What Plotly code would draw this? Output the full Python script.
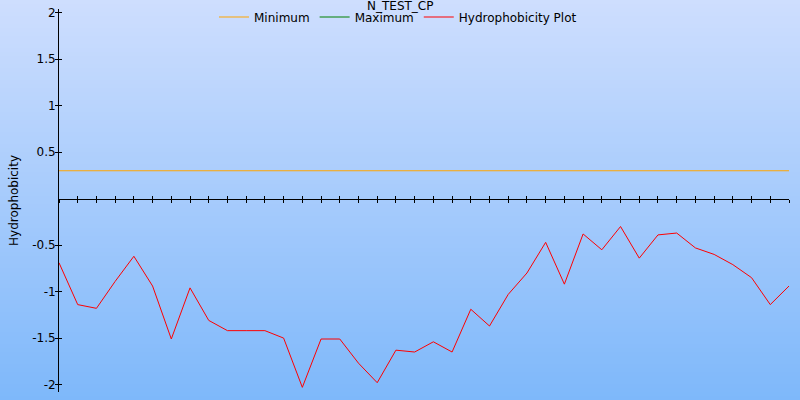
import plotly.graph_objects as go

# ---- data ----
positions = list(range(1, 41))
hydrophobicity = [
    -0.69, -1.14, -1.18, -0.89, -0.62, -0.94, -1.51, -0.96, -1.31, -1.42,
    -1.42, -1.42, -1.50, -2.03, -1.51, -1.51, -1.77, -1.98, -1.63, -1.65,
    -1.54, -1.65, -1.19, -1.37, -1.03, -0.80, -0.47, -0.92, -0.38, -0.55,
    -0.30, -0.64, -0.39, -0.37, -0.53, -0.60, -0.71, -0.85, -1.14, -0.94,
]
minimum_value = 0.3
y_tick_vals = [2, 1.5, 1, 0.5, -0.5, -1, -1.5, -2]
y_tick_text = ["2", "1.5", "1", "0.5", "-0.5", "-1", "-1.5", "-2"]

title_text = "N_TEST_CP"
y_title = "Hydrophobicity"

# ---- layout geometry ----
W, H = 800, 400
ML, MR, MT, MB = 59, 11, 9, 8
Y_RANGE = [-2.08, 2.04]
zero_pos = (0 - Y_RANGE[0]) / (Y_RANGE[1] - Y_RANGE[0])
font = "DejaVu Sans"
plot_h = H - MT - MB
plot_w = W - ML - MR


def py(row):
    """paper y coordinate of a pixel row measured from the top"""
    return (H - MB - row) / plot_h


def px(col):
    return (col - ML) / plot_w


fig = go.Figure()

fig.add_trace(go.Scatter(
    x=positions, y=[minimum_value] * len(positions), mode="lines",
    name="Minimum", line=dict(color="orange", width=1),
))
fig.add_trace(go.Scatter(
    x=[None], y=[None], mode="lines",
    name="Maximum", line=dict(color="green", width=1),
    xaxis="x2", yaxis="y2",
))
fig.add_trace(go.Scatter(
    x=positions, y=hydrophobicity, mode="lines",
    name="Hydrophobicity Plot", line=dict(color="red", width=1),
))

# background gradient as horizontal bands
top_c = (206, 222, 254)
bot_c = (126, 184, 250)
n_bands = 100
shapes = []
for k in range(n_bands):
    r0 = k * H / n_bands
    r1 = (k + 1) * H / n_bands
    t = (k + 0.5) / n_bands
    c = tuple(round(top_c[i] + (bot_c[i] - top_c[i]) * t) for i in range(3))
    shapes.append(dict(
        type="rect", xref="paper", yref="paper", layer="below",
        x0=px(0), x1=px(W), y0=py(r1), y1=py(r0),
        fillcolor="rgb(%d,%d,%d)" % c, line=dict(width=0),
    ))

fig.update_layout(
    width=W, height=H,
    margin=dict(l=ML, r=MR, t=MT, b=MB, autoexpand=False),
    paper_bgcolor="rgb(166,203,252)",
    plot_bgcolor="rgba(0,0,0,0)",
    font=dict(family=font, size=12, color="black"),
    shapes=shapes,
    annotations=[dict(text=title_text, xref="paper", yref="paper",
                      x=px(400), y=py(-3), xanchor="center", yanchor="top",
                      showarrow=False, font=dict(family=font, size=12, color="black"))],
    legend=dict(orientation="h", x=px(398), xanchor="center", y=py(17),
                yanchor="middle", bgcolor="rgba(0,0,0,0)",
                font=dict(family=font, size=12, color="black"), itemwidth=30),
    xaxis=dict(range=[positions[0], positions[-1]], anchor="free", position=zero_pos,
               showline=True, linecolor="black", linewidth=1,
               ticks="outside", ticklen=3, tickcolor="black", dtick=1, tick0=1,
               showticklabels=False, showgrid=False, zeroline=False, automargin=False),
    xaxis2=dict(overlaying="x", matches="x", anchor="free", position=zero_pos,
                showline=False, ticks="inside", ticklen=3, tickcolor="black",
                dtick=1, tick0=1, showticklabels=False, showgrid=False, zeroline=False,
                automargin=False),
    yaxis=dict(range=Y_RANGE, showline=True, linecolor="black", linewidth=1,
               tickvals=y_tick_vals, ticktext=y_tick_text,
               ticks="inside", ticklen=3, tickcolor="black",
               showgrid=False, zeroline=False, automargin=False,
               title=dict(text=y_title, standoff=10, font=dict(family=font, size=12))),
    yaxis2=dict(overlaying="y", matches="y", anchor="x", side="left",
                showline=False, tickvals=y_tick_vals, ticks="outside", ticklen=3,
                tickcolor="black", showticklabels=False, showgrid=False, zeroline=False,
                automargin=False),
)

fig.write_html("out.html",
               config={"displayModeBar": False},
               post_script="document.body.style.margin='0';document.body.style.overflow='hidden';")
